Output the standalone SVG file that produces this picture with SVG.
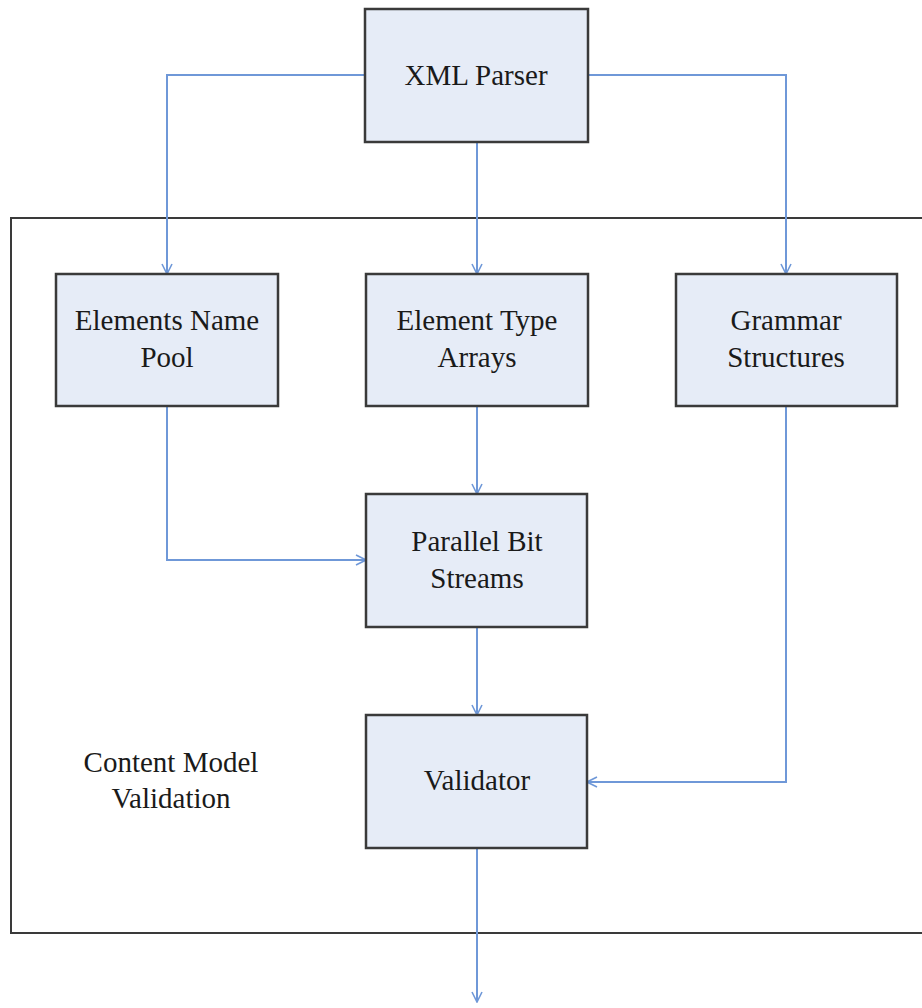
<svg xmlns="http://www.w3.org/2000/svg" width="922" height="1008" viewBox="0 0 922 1008">
<style>
.box{fill:#e6ecf7;stroke:#3a3a3a;stroke-width:2.5}
.t{font-size:29px;fill:#1a1a1a;text-anchor:middle}
.c{fill:none;stroke:#6f98d8;stroke-width:2;marker-end:url(#arr)}
</style>
<defs>
<marker id="arr" viewBox="0 0 12 12" refX="11" refY="6" markerWidth="12" markerHeight="12" markerUnits="userSpaceOnUse" orient="auto">
<path d="M1,1 L11,6 L1,11" fill="none" stroke="#6f98d8" stroke-width="1.6"/>
</marker>
</defs>
<g font-family="Liberation Serif, DejaVu Serif, serif">
<g id="container">
<rect x="11" y="218" width="920" height="715" fill="none" stroke="#3a3a3a" stroke-width="2"/>
<text class="t" x="171" y="772">Content Model</text>
<text class="t" x="171" y="808">Validation</text>
</g>
<g id="connectors">
<path class="c" d="M365,75 H167 V274"/>
<path class="c" d="M588,75 H786 V274"/>
<path class="c" d="M477,142 V274"/>
<path class="c" d="M477,406 V494"/>
<path class="c" d="M167,406 V560 H366"/>
<path class="c" d="M477,627 V715"/>
<path class="c" d="M786,406 V782 H587"/>
<path class="c" d="M477,848 V1002"/>
</g>
<g id="xml-parser">
<rect class="box" x="365" y="9" width="223" height="133"/>
<text class="t" x="476" y="85">XML Parser</text>
</g>
<g id="elements-name-pool">
<rect class="box" x="56" y="274" width="222" height="132"/>
<text class="t" x="167" y="330">Elements Name</text>
<text class="t" x="167" y="367">Pool</text>
</g>
<g id="element-type-arrays">
<rect class="box" x="366" y="274" width="222" height="132"/>
<text class="t" x="477" y="330">Element Type</text>
<text class="t" x="477" y="367">Arrays</text>
</g>
<g id="grammar-structures">
<rect class="box" x="676" y="274" width="221" height="132"/>
<text class="t" x="786" y="330">Grammar</text>
<text class="t" x="786" y="367">Structures</text>
</g>
<g id="parallel-bit-streams">
<rect class="box" x="366" y="494" width="221" height="133"/>
<text class="t" x="477" y="551">Parallel Bit</text>
<text class="t" x="477" y="588">Streams</text>
</g>
<g id="validator">
<rect class="box" x="366" y="715" width="221" height="133"/>
<text class="t" x="477" y="790">Validator</text>
</g>
</g>
</svg>
